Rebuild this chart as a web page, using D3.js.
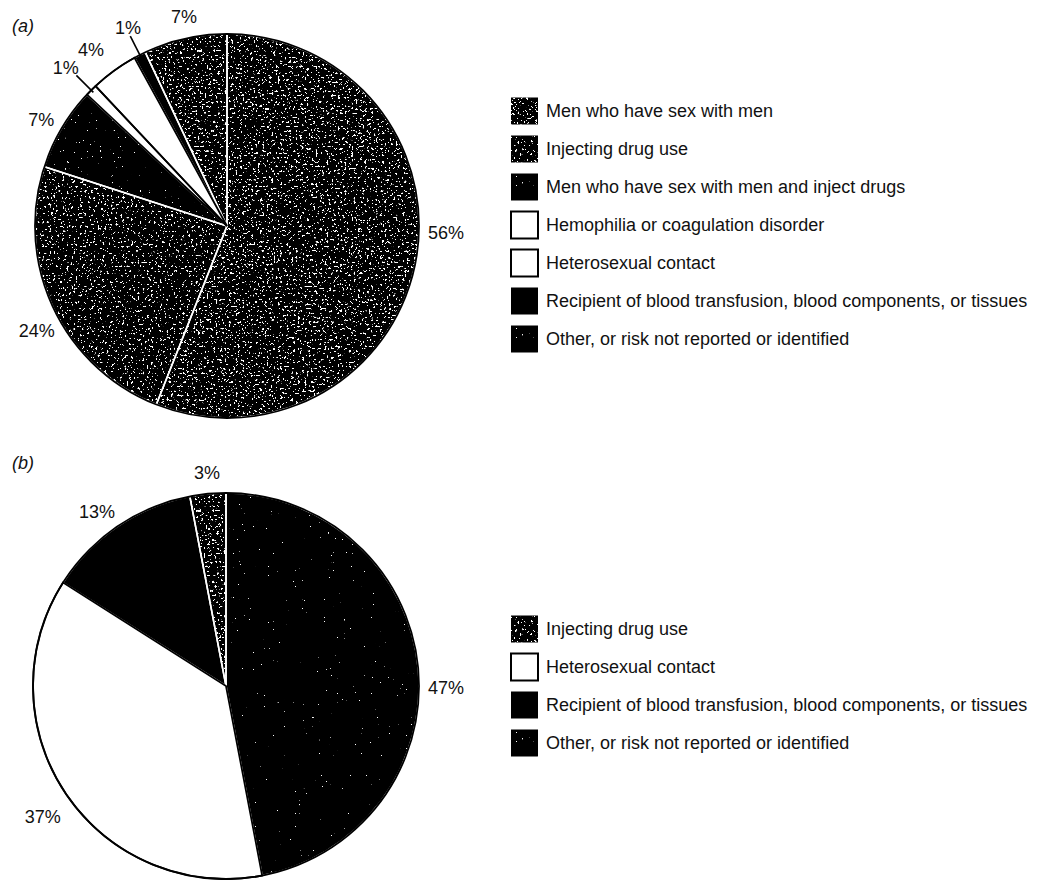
<!DOCTYPE html>
<html>
<head>
<meta charset="utf-8">
<script src="https://cdn.jsdelivr.net/npm/d3@7"></script>
<style>
  html, body { margin: 0; background: #fff; }
  text { font-family: "Liberation Sans", Arial, Helvetica, sans-serif; fill: #111; }
</style>
</head>
<body>
<svg id="fig" width="1051" height="880"></svg>
<script>
// ---- Panel (a): exposure categories and percentage shares ----
const categoriesA = [
  "Men who have sex with men",
  "Injecting drug use",
  "Men who have sex with men and inject drugs",
  "Hemophilia or coagulation disorder",
  "Heterosexual contact",
  "Recipient of blood transfusion, blood components, or tissues",
  "Other, or risk not reported or identified"
];
const valuesA = [56, 24, 7, 1, 4, 1, 7];

// ---- Panel (b): exposure categories and percentage shares ----
const categoriesB = [
  "Injecting drug use",
  "Heterosexual contact",
  "Recipient of blood transfusion, blood components, or tissues",
  "Other, or risk not reported or identified"
];
const valuesB = [47, 37, 13, 3];

const panelTitles = ["(a)", "(b)"];

// ---- Styling: texture of each slice and of its legend swatch (category order) ----
const texturesA = ["dense", "medium", "dark", "white", "white", "black", "dense"];
const texturesB = ["sparse", "white", "black", "dense"];
const swatchTexA = ["dense", "medium", "dark", "white", "white", "black", "dark"];
const swatchTexB = ["medium", "white", "black", "dark"];

// ---- Label placement: [angle clockwise from 12 o'clock in degrees, distance from centre] ----
const labelPolarA = [[91.6, 219], [241.3, 217], [299.8, 214], [314.5, 226], [322.4, 223], [333.5, 222], [348.4, 214]];
const labelPolarB = [[90.3, 220], [234.5, 225], [323.5, 217], [354.9, 214]];

// ---- Layout ----
const panels = [
  { title: panelTitles[0], cats: categoriesA, vals: valuesA, tex: texturesA, swTex: swatchTexA, lab: labelPolarA,
    cx: 227, cy: 226, r: 192, titleX: 12, titleY: 32,
    legendX: 511, legendY: 111, rowGap: 38,
    leaders: [3, 5] },
  { title: panelTitles[1], cats: categoriesB, vals: valuesB, tex: texturesB, swTex: swatchTexB, lab: labelPolarB,
    cx: 226, cy: 686, r: 193, titleX: 12, titleY: 469,
    legendX: 511, legendY: 629, rowGap: 38,
    leaders: [] }
];

const svg = d3.select("#fig");
const defs = svg.append("defs");

// Speckle filters: white flecks of noise clipped to the shape they are applied to
const speckles = { dense: 0.635, medium: 0.645, sparse: 0.79, dark: 0.76 };
Object.entries(speckles).forEach(([name, thr], i) => {
  const f = defs.append("filter").attr("id", "speck-" + name)
    .attr("filterUnits", "userSpaceOnUse")
    .attr("x", -1200).attr("y", -1200).attr("width", 2600).attr("height", 2600);
  f.append("feTurbulence").attr("type", "fractalNoise")
    .attr("baseFrequency", 0.45).attr("numOctaves", 2).attr("seed", 11 + i)
    .attr("result", "noise");
  const k = 30;
  f.append("feColorMatrix").attr("in", "noise").attr("type", "matrix")
    .attr("values", `0 0 0 0 1  0 0 0 0 1  0 0 0 0 1  ${k} 0 0 0 ${-k * thr}`)
    .attr("result", "flecks");
  f.append("feComposite").attr("in", "flecks").attr("in2", "SourceGraphic")
    .attr("operator", "in");
});

const isWhite = t => t === "white";
const rad = d => d * Math.PI / 180;

panels.forEach(p => {
  const g = svg.append("g");

  const pie = d3.pie().sort(null).value(d => d.v);
  const arcs = pie(p.cats.map((c, i) => ({ c, v: p.vals[i], tex: p.tex[i], sw: p.swTex[i], i })));
  const arc = d3.arc().innerRadius(0).outerRadius(p.r);

  const pieG = g.append("g").attr("transform", `translate(${p.cx},${p.cy})`);

  // slice bodies
  pieG.selectAll("path.base").data(arcs).join("path")
    .attr("class", "base")
    .attr("d", arc)
    .attr("fill", d => isWhite(d.data.tex) ? "#fff" : "#000");

  // textured overlays
  pieG.selectAll("path.fleck").data(arcs.filter(d => speckles[d.data.tex] !== undefined)).join("path")
    .attr("class", "fleck")
    .attr("d", arc)
    .attr("fill", "#fff")
    .attr("filter", d => `url(#speck-${d.data.tex})`);

  // white separators between dark slices
  pieG.selectAll("path.sep").data(arcs.filter(d => !isWhite(d.data.tex))).join("path")
    .attr("class", "sep")
    .attr("d", arc)
    .attr("fill", "none")
    .attr("stroke", "#fff")
    .attr("stroke-width", 1.6);

  // black outlines around white slices
  pieG.selectAll("path.out").data(arcs.filter(d => isWhite(d.data.tex))).join("path")
    .attr("class", "out")
    .attr("d", arc)
    .attr("fill", "none")
    .attr("stroke", "#000")
    .attr("stroke-width", 1.8)
    .attr("stroke-linejoin", "miter");

  // rim
  pieG.append("circle").attr("r", p.r)
    .attr("fill", "none").attr("stroke", "#000").attr("stroke-width", 1.8);

  // leader lines for the smallest slices
  arcs.filter(d => p.leaders.includes(d.index)).forEach(d => {
    const a = (d.startAngle + d.endAngle) / 2;
    pieG.append("line")
      .attr("x1", Math.sin(a) * (p.r - 3)).attr("y1", -Math.cos(a) * (p.r - 3))
      .attr("x2", Math.sin(a) * (p.r + 21)).attr("y2", -Math.cos(a) * (p.r + 21))
      .attr("stroke", "#000").attr("stroke-width", 1.6);
  });

  // percentage labels
  pieG.selectAll("text.pct").data(arcs).join("text")
    .attr("class", "pct")
    .attr("x", d => Math.sin(rad(p.lab[d.index][0])) * p.lab[d.index][1])
    .attr("y", d => -Math.cos(rad(p.lab[d.index][0])) * p.lab[d.index][1])
    .attr("dy", "0.36em")
    .attr("text-anchor", "middle")
    .attr("font-size", 18)
    .text(d => d.data.v + "%");

  // panel title
  g.append("text")
    .attr("x", p.titleX).attr("y", p.titleY)
    .attr("font-size", 18).attr("font-style", "italic")
    .text(p.title);

  // legend
  const sw = 27;
  const rows = g.append("g").selectAll("g").data(arcs).join("g")
    .attr("transform", (d, i) => `translate(${p.legendX},${p.legendY + i * p.rowGap})`);
  rows.append("rect")
    .attr("x", 0).attr("y", -sw / 2).attr("width", sw).attr("height", sw)
    .attr("fill", d => isWhite(d.data.sw) ? "#fff" : "#000")
    .attr("stroke", "#000").attr("stroke-width", d => isWhite(d.data.sw) ? 2 : 0);
  rows.filter(d => speckles[d.data.sw] !== undefined).append("rect")
    .attr("x", 0).attr("y", -sw / 2).attr("width", sw).attr("height", sw)
    .attr("fill", "#fff")
    .attr("filter", d => `url(#speck-${d.data.sw})`);
  rows.append("text")
    .attr("x", sw + 8).attr("y", 0).attr("dy", "0.36em")
    .attr("font-size", 18)
    .text(d => d.data.c);
});
</script>
</body>
</html>
